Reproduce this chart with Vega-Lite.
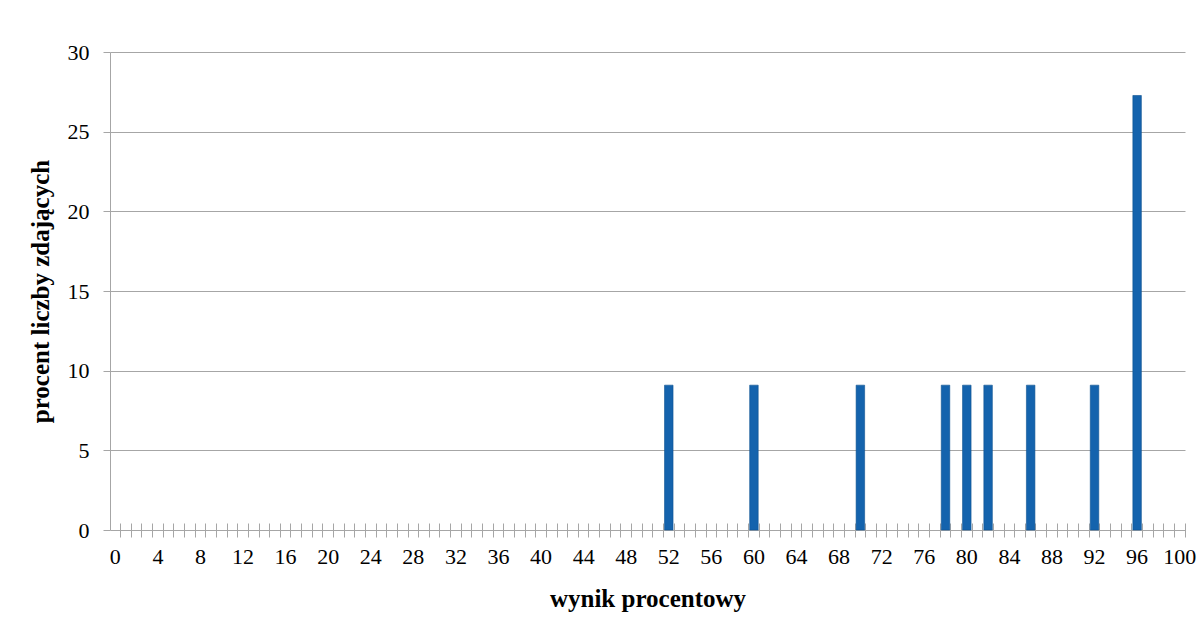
{
  "$schema": "https://vega.github.io/schema/vega-lite/v6.json",
  "autosize": "none",
  "padding": {"left": 110, "top": 52, "right": 18, "bottom": 109},
  "width": 1075,
  "height": 478,
  "background": "white",
  "config": {
    "view": {"stroke": null},
    "font": "Liberation Serif",
    "axis": {
      "labelFont": "Liberation Serif",
      "titleFont": "Liberation Serif",
      "labelColor": "black",
      "titleColor": "black",
      "labelFontSize": 22,
      "titleFontSize": 25,
      "titleFontWeight": "bold",
      "domainColor": "#a6a6a6",
      "tickColor": "#a6a6a6",
      "gridColor": "#a6a6a6"
    }
  },
  "data": {
    "values": [
      {"wynik": 52, "procent": 9.09},
      {"wynik": 60, "procent": 9.09},
      {"wynik": 70, "procent": 9.09},
      {"wynik": 78, "procent": 9.09},
      {"wynik": 80, "procent": 9.09},
      {"wynik": 82, "procent": 9.09},
      {"wynik": 86, "procent": 9.09},
      {"wynik": 92, "procent": 9.09},
      {"wynik": 96, "procent": 27.27}
    ]
  },
  "mark": {"type": "bar", "width": {"band": 0.8}, "color": "#1463ad", "stroke": "#0d5290", "strokeWidth": 0.6},
  "encoding": {
    "x": {
      "field": "wynik",
      "type": "ordinal",
      "title": "wynik procentowy",
      "scale": {
        "domain": [0,1,2,3,4,5,6,7,8,9,10,11,12,13,14,15,16,17,18,19,20,21,22,23,24,25,26,27,28,29,30,31,32,33,34,35,36,37,38,39,40,41,42,43,44,45,46,47,48,49,50,51,52,53,54,55,56,57,58,59,60,61,62,63,64,65,66,67,68,69,70,71,72,73,74,75,76,77,78,79,80,81,82,83,84,85,86,87,88,89,90,91,92,93,94,95,96,97,98,99,100],
        "paddingInner": 0,
        "paddingOuter": 0
      },
      "axis": {
        "labelAngle": 0,
        "domain": false,
        "grid": false,
        "offset": -7,
        "tickSize": 14,
        "bandPosition": 1,
        "labelPadding": 9,
        "labelOverlap": false,
        "labelBound": false,
        "labelExpr": "datum.value % 4 == 0 ? datum.label : ''",
        "titlePadding": 19
      }
    },
    "y": {
      "field": "procent",
      "type": "quantitative",
      "title": "procent liczby zdających",
      "scale": {"domain": [0, 30], "nice": false},
      "axis": {
        "values": [0, 5, 10, 15, 20, 25, 30],
        "grid": true,
        "tickSize": 7,
        "labelPadding": 14,
        "titlePadding": 14
      }
    }
  }
}
